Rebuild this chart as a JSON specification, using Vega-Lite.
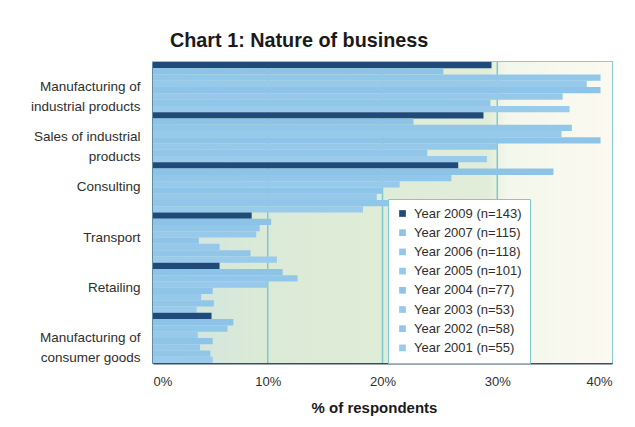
{
  "$schema": "https://vega.github.io/schema/vega-lite/v6.json",
  "width": 459,
  "height": 301,
  "autosize": {"type": "none"},
  "padding": {"left": 153, "top": 62, "right": 23, "bottom": 64},
  "background": "white",
  "title": {
    "text": "Chart 1: Nature of business",
    "anchor": "start",
    "frame": "group",
    "dx": 17,
    "offset": 10,
    "font": "Liberation Sans",
    "fontSize": 19.8,
    "fontWeight": "bold",
    "color": "#1a1a1a"
  },
  "config": {
    "font": "Liberation Sans",
    "view": {"stroke": "#86cdd3", "strokeWidth": 2}
  },
  "datasets": {
    "bars": [
      {"category": "Manufacturing of industrial products", "year": "Year 2009 (n=143)", "value": 29.5},
      {"category": "Manufacturing of industrial products", "year": "Year 2007 (n=115)", "value": 25.3},
      {"category": "Manufacturing of industrial products", "year": "Year 2006 (n=118)", "value": 39.0},
      {"category": "Manufacturing of industrial products", "year": "Year 2005 (n=101)", "value": 37.8},
      {"category": "Manufacturing of industrial products", "year": "Year 2004 (n=77)", "value": 39.0},
      {"category": "Manufacturing of industrial products", "year": "Year 2003 (n=53)", "value": 35.7},
      {"category": "Manufacturing of industrial products", "year": "Year 2002 (n=58)", "value": 29.4},
      {"category": "Manufacturing of industrial products", "year": "Year 2001 (n=55)", "value": 36.3},
      {"category": "Sales of industrial products", "year": "Year 2009 (n=143)", "value": 28.8},
      {"category": "Sales of industrial products", "year": "Year 2007 (n=115)", "value": 22.7},
      {"category": "Sales of industrial products", "year": "Year 2006 (n=118)", "value": 36.5},
      {"category": "Sales of industrial products", "year": "Year 2005 (n=101)", "value": 35.6},
      {"category": "Sales of industrial products", "year": "Year 2004 (n=77)", "value": 39.0},
      {"category": "Sales of industrial products", "year": "Year 2003 (n=53)", "value": 30.0},
      {"category": "Sales of industrial products", "year": "Year 2002 (n=58)", "value": 23.9},
      {"category": "Sales of industrial products", "year": "Year 2001 (n=55)", "value": 29.1},
      {"category": "Consulting", "year": "Year 2009 (n=143)", "value": 26.6},
      {"category": "Consulting", "year": "Year 2007 (n=115)", "value": 34.9},
      {"category": "Consulting", "year": "Year 2006 (n=118)", "value": 26.0},
      {"category": "Consulting", "year": "Year 2005 (n=101)", "value": 21.5},
      {"category": "Consulting", "year": "Year 2004 (n=77)", "value": 20.0},
      {"category": "Consulting", "year": "Year 2003 (n=53)", "value": 19.5},
      {"category": "Consulting", "year": "Year 2002 (n=58)", "value": 20.5},
      {"category": "Consulting", "year": "Year 2001 (n=55)", "value": 18.3},
      {"category": "Transport", "year": "Year 2009 (n=143)", "value": 8.6},
      {"category": "Transport", "year": "Year 2007 (n=115)", "value": 10.3},
      {"category": "Transport", "year": "Year 2006 (n=118)", "value": 9.3},
      {"category": "Transport", "year": "Year 2005 (n=101)", "value": 9.0},
      {"category": "Transport", "year": "Year 2004 (n=77)", "value": 4.0},
      {"category": "Transport", "year": "Year 2003 (n=53)", "value": 5.8},
      {"category": "Transport", "year": "Year 2002 (n=58)", "value": 8.5},
      {"category": "Transport", "year": "Year 2001 (n=55)", "value": 10.8},
      {"category": "Retailing", "year": "Year 2009 (n=143)", "value": 5.8},
      {"category": "Retailing", "year": "Year 2007 (n=115)", "value": 11.3},
      {"category": "Retailing", "year": "Year 2006 (n=118)", "value": 12.6},
      {"category": "Retailing", "year": "Year 2005 (n=101)", "value": 10.0},
      {"category": "Retailing", "year": "Year 2004 (n=77)", "value": 5.2},
      {"category": "Retailing", "year": "Year 2003 (n=53)", "value": 4.2},
      {"category": "Retailing", "year": "Year 2002 (n=58)", "value": 5.3},
      {"category": "Retailing", "year": "Year 2001 (n=55)", "value": 3.8},
      {"category": "Manufacturing of consumer goods", "year": "Year 2009 (n=143)", "value": 5.1},
      {"category": "Manufacturing of consumer goods", "year": "Year 2007 (n=115)", "value": 7.0},
      {"category": "Manufacturing of consumer goods", "year": "Year 2006 (n=118)", "value": 6.5},
      {"category": "Manufacturing of consumer goods", "year": "Year 2005 (n=101)", "value": 3.9},
      {"category": "Manufacturing of consumer goods", "year": "Year 2004 (n=77)", "value": 5.2},
      {"category": "Manufacturing of consumer goods", "year": "Year 2003 (n=53)", "value": 4.1},
      {"category": "Manufacturing of consumer goods", "year": "Year 2002 (n=58)", "value": 5.0},
      {"category": "Manufacturing of consumer goods", "year": "Year 2001 (n=55)", "value": 5.2}
    ],
    "grid": [{"pct": 10}, {"pct": 20}, {"pct": 30}]
  },
  "layer": [
    {
      "data": {"values": [{}]},
      "mark": {
        "type": "rect",
        "color": {
          "gradient": "linear",
          "x1": 0, "y1": 0, "x2": 1, "y2": 0,
          "stops": [
            {"offset": 0, "color": "#cde3e6"},
            {"offset": 0.22, "color": "#dbead6"},
            {"offset": 0.73, "color": "#e1edd9"},
            {"offset": 0.77, "color": "#f3f7ec"},
            {"offset": 1, "color": "#fbf9f0"}
          ]
        }
      },
      "encoding": {
        "x": {"datum": 0, "type": "quantitative"},
        "x2": {"datum": 40}
      }
    },
    {
      "data": {"name": "grid"},
      "mark": {"type": "rule", "color": "#7ec9cd", "strokeWidth": 1.5},
      "encoding": {
        "x": {"field": "pct", "type": "quantitative"}
      }
    },
    {
      "data": {"name": "bars"},
      "mark": {"type": "bar"},
      "encoding": {
        "y": {
          "field": "category",
          "type": "nominal",
          "sort": null,
          "scale": {"paddingInner": 0, "paddingOuter": 0},
          "axis": {
            "title": null,
            "ticks": false,
            "domainColor": "#3b4d66",
            "domainWidth": 2,
            "labelPadding": 13,
            "labelFontSize": 13.5,
            "labelColor": "#2e2e2e",
            "labelLineHeight": 20,
            "labelExpr": "datum.label == 'Manufacturing of industrial products' ? ['Manufacturing of', 'industrial products'] : datum.label == 'Sales of industrial products' ? ['Sales of industrial', 'products'] : datum.label == 'Manufacturing of consumer goods' ? ['Manufacturing of', 'consumer goods'] : datum.label"
          }
        },
        "yOffset": {
          "field": "year",
          "type": "nominal",
          "scale": {
            "domain": ["Year 2009 (n=143)", "Year 2007 (n=115)", "Year 2006 (n=118)", "Year 2005 (n=101)", "Year 2004 (n=77)", "Year 2003 (n=53)", "Year 2002 (n=58)", "Year 2001 (n=55)"],
            "paddingInner": 0,
            "paddingOuter": 0
          }
        },
        "x": {
          "field": "value",
          "type": "quantitative",
          "scale": {"domain": [0, 40], "nice": false},
          "axis": {
            "title": "% of respondents",
            "titleFontSize": 15,
            "titleFontWeight": "bold",
            "titleColor": "#1a1a1a",
            "titlePadding": 12,
            "titleX": 221,
            "values": [0, 10, 20, 30, 40],
            "labelExpr": "datum.value + '%'",
            "labelFontSize": 13,
            "labelColor": "#2e2e2e",
            "labelPadding": 12,
            "ticks": false,
            "domainColor": "#3b4d66",
            "domainWidth": 2,
            "grid": false
          }
        },
        "color": {
          "field": "year",
          "type": "nominal",
          "scale": {
            "domain": ["Year 2009 (n=143)", "Year 2007 (n=115)", "Year 2006 (n=118)", "Year 2005 (n=101)", "Year 2004 (n=77)", "Year 2003 (n=53)", "Year 2002 (n=58)", "Year 2001 (n=55)"],
            "range": ["#1f4a7a", "#8ec3e8", "#93c7ea", "#97c9eb", "#8fc4e9", "#96c8ea", "#92c6e9", "#9acbec"]
          },
          "legend": {
            "title": null,
            "orient": "none",
            "legendX": 235,
            "legendY": 137,
            "fillColor": "white",
            "strokeColor": "#7ec9cd",
            "padding": 8,
            "symbolType": "square",
            "symbolSize": 45,
            "symbolStrokeWidth": 0,
            "labelFontSize": 13,
            "labelColor": "#2e2e2e",
            "labelOffset": 5,
            "rowPadding": 5.2
          }
        }
      }
    }
  ]
}
